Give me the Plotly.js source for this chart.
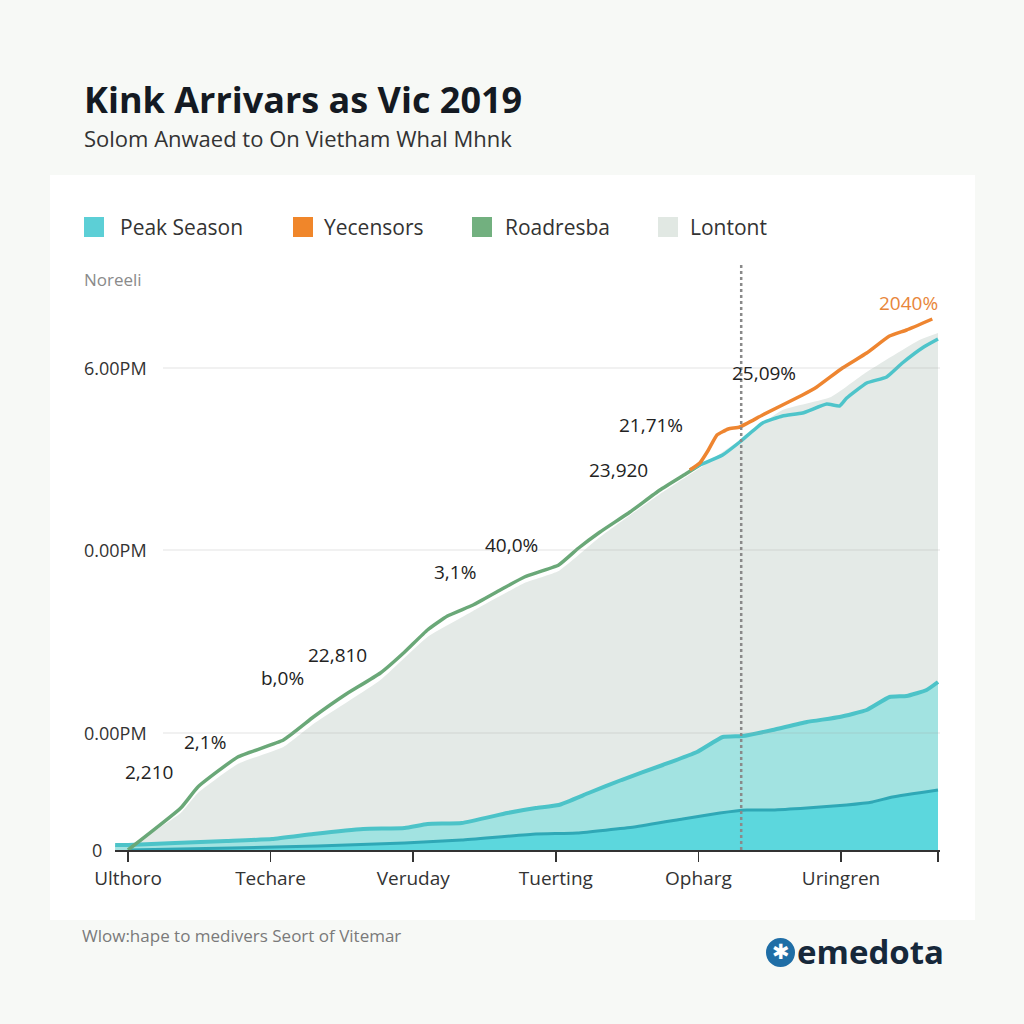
<!DOCTYPE html>
<html>
<head>
<meta charset="utf-8">
<script src="https://cdn.plot.ly/plotly-3.0.1.min.js"></script>
<style>html,body{margin:0;padding:0;background:#f7f9f6;}#chart{width:1024px;height:1024px;}</style>
</head>
<body>
<div id="chart"></div>
<script>
// ---- data ----
const xTickVals = [0, 10, 20, 30, 40, 50, 56.8];
const xTickText = ["Ulthoro", "Techare", "Veruday", "Tuerting", "Opharg", "Uringren", ""];
const yTickVals = [0, 117, 300, 482];
const yTickText = ["0", "0.00PM", "0.00PM", "6.00PM"];

const greenX = [0, 3.7, 4.9, 7.7, 10.9, 13.0, 15.2, 17.7, 19.4, 21.0, 22.4, 24.2, 26.1, 27.8, 30.2, 31.6, 33.1, 35.2, 37.3, 39.1, 40.1];
const greenY = [0, 42, 63, 93, 110, 133, 155, 177, 198, 220, 234, 245, 260, 273, 285, 302, 318, 338, 360, 376, 385];

const topTealX = [39.4, 40.1, 41.7, 42.9, 44.5, 45.9, 47.3, 49.0, 49.9, 50.4, 51.8, 53.2, 54.3, 55.8, 56.8];
const topTealY = [380, 385, 395, 408, 427, 434, 437, 446, 444, 452, 467, 473, 487, 503, 511];

const orangeX = [39.4, 40.1, 40.7, 41.3, 42.1, 42.9, 44.5, 47.3, 48.3, 50.1, 51.8, 53.4, 54.6, 56.4];
const orangeY = [380, 387, 400, 415, 421, 423, 435, 455, 463, 482, 497, 514, 520, 531];

const grayX = [-0.9, 0, 3.7, 4.9, 7.7, 10.9, 13.0, 17.7, 21.0, 24.2, 27.8, 30.2, 33.1, 37.3, 40.1, 42.9, 45.9, 49.3, 51.8, 55.5, 56.8];
const grayY = [4, 3, 37, 57, 86, 103, 126, 170, 213, 239, 267, 279, 313, 356, 382, 410, 440, 453, 478, 510, 517];

const midTealX = [-0.9, 0, 3.3, 6.9, 10.1, 13.0, 16.5, 19.4, 21.0, 23.4, 26.6, 28.6, 30.2, 32.3, 34.6, 37.5, 39.9, 41.7, 43.1, 45.2, 47.6, 49.9, 51.8, 53.4, 54.6, 56.0, 56.8];
const midTealY = [5, 5, 7, 9, 11, 16, 21, 22, 26, 27, 37, 42, 45, 57, 70, 85, 98, 113, 114, 120, 128, 133, 140, 153, 154, 160, 168];

const lowTealX = [0, 7.3, 13.3, 19.4, 23.4, 28.6, 31.5, 35.5, 38.9, 41.5, 43.4, 45.2, 47.6, 50.4, 52.2, 53.6, 56.8];
const lowTealY = [0, 2, 4, 7, 10, 16, 17, 23, 31, 37, 40, 40, 42, 45, 48, 53, 60];

const labelText = ["2,210", "2,1%", "b,0%", "22,810", "3,1%", "40,0%", "23,920", "21,71%", "25,09%", "2040%"];
const labelX = [1.5, 5.4, 10.8, 14.7, 22.9, 26.9, 34.4, 36.7, 44.6, 54.7];
const labelY = [78, 108, 172, 195, 278, 305, 380, 425, 477, 547];

const legendNames = ["Peak Season", "Yecensors", "Roadresba", "Lontont"];
const legendColors = ["#5ccfd6", "#f0862a", "#72b07f", "#e1e8e3"];
const dividerX = 43.0;

// ---- layout helpers (pixel -> paper) ----
const L = 115, T = 265, W = 825, H = 585;
const px = v => (v - L) / W;
const py = v => (T + H - v) / H;
const FONT = "Open Sans, Noto Sans, sans-serif";

const traces = [
  {x: grayX, y: grayY, type: "scatter", mode: "lines", line: {width: 0, shape: "spline", smoothing: 0.4}, fill: "tozeroy", fillcolor: "#e4eae7", hoverinfo: "skip"},
  {x: midTealX, y: midTealY, type: "scatter", mode: "lines", line: {color: "#4cc3c8", width: 4, shape: "spline", smoothing: 0.4}, fill: "tozeroy", fillcolor: "#a2e3e1"},
  {x: lowTealX, y: lowTealY, type: "scatter", mode: "lines", line: {color: "#2fa8b6", width: 3, shape: "spline", smoothing: 0.4}, fill: "tozeroy", fillcolor: "#5cd7dd"},
  {x: greenX, y: greenY, type: "scatter", mode: "lines", line: {color: "#6aa878", width: 3.5, shape: "spline", smoothing: 0.4}},
  {x: topTealX, y: topTealY, type: "scatter", mode: "lines", line: {color: "#4ec4ca", width: 3.5, shape: "spline", smoothing: 0.4}},
  {x: orangeX, y: orangeY, type: "scatter", mode: "lines", line: {color: "#ee8530", width: 3.5, shape: "spline", smoothing: 0.4}}
];

const shapes = [
  {type: "rect", xref: "paper", yref: "paper", x0: px(50), x1: px(975), y0: py(920), y1: py(175), fillcolor: "#ffffff", line: {width: 0}, layer: "below"}
];
yTickVals.slice(1).forEach(v => shapes.push({type: "line", xref: "paper", yref: "y", x0: px(163), x1: 1, y0: v, y1: v, line: {color: "rgba(160,160,160,0.3)", width: 1}, layer: "above"}));
shapes.push({type: "line", xref: "x", yref: "paper", x0: dividerX, x1: dividerX, y0: 0, y1: 1, line: {color: "#8a8a8a", width: 2.5, dash: "dot"}, layer: "above"});

const legendBoxX = [84, 293, 472, 658];
const legendTextX = [118, 322, 503, 688];
legendColors.forEach((c, i) => shapes.push({type: "rect", xref: "paper", yref: "paper", x0: px(legendBoxX[i]), x1: px(legendBoxX[i] + 20), y0: py(237), y1: py(217), fillcolor: c, line: {width: 0}}));
// logo circle
shapes.push({type: "circle", xref: "paper", yref: "paper", x0: px(766), x1: px(795), y0: py(967), y1: py(938), fillcolor: "#1f6ea6", line: {width: 0}});

const annotations = [
  {xref: "paper", yref: "paper", x: px(82), y: py(100), xanchor: "left", yanchor: "middle", text: "<b>Kink Arrivars as Vic 2019</b>", showarrow: false, font: {family: FONT, size: 36, color: "#141a22"}},
  {xref: "paper", yref: "paper", x: px(82), y: py(138), xanchor: "left", yanchor: "middle", text: "Solom Anwaed to On Vietham Whal Mhnk", showarrow: false, font: {family: FONT, size: 22, color: "#333"}},
  {xref: "paper", yref: "paper", x: px(82), y: py(279), xanchor: "left", yanchor: "middle", text: "Noreeli", showarrow: false, font: {family: FONT, size: 17, color: "#8a8a8a"}},
  {xref: "paper", yref: "paper", x: px(80), y: py(935), xanchor: "left", yanchor: "middle", text: "Wlow:hape to medivers Seort of Vitemar", showarrow: false, font: {family: FONT, size: 17, color: "#7a7a7a"}},
  {xref: "paper", yref: "paper", x: px(780.5), y: py(952), xanchor: "center", yanchor: "middle", text: "✱", showarrow: false, font: {family: "DejaVu Sans", size: 21, color: "#ffffff"}},
  {xref: "paper", yref: "paper", x: px(795), y: py(951), xanchor: "left", yanchor: "middle", text: "<b>emedota</b>", showarrow: false, font: {family: FONT, size: 33, color: "#16283a"}}
];
legendNames.forEach((n, i) => annotations.push({xref: "paper", yref: "paper", x: px(legendTextX[i]), y: py(227), xanchor: "left", yanchor: "middle", text: n, showarrow: false, font: {family: FONT, size: 21, color: "#333"}}));
yTickVals.forEach((v, i) => annotations.push({xref: "paper", yref: "y", x: px(i === 0 ? 90 : 82), y: v, xanchor: "left", yanchor: "middle", text: yTickText[i], showarrow: false, font: {family: FONT, size: 18, color: "#333"}}));
labelText.forEach((t, i) => annotations.push({xref: "x", yref: "y", x: labelX[i], y: labelY[i], xanchor: "center", yanchor: "middle", text: t, showarrow: false, font: {family: FONT, size: 19, color: i === labelText.length - 1 ? "#e8863a" : "#222"}}));

const layout = {
  width: 1024, height: 1024,
  margin: {l: L, r: 1024 - L - W, t: T, b: 1024 - T - H},
  paper_bgcolor: "#f7f9f6", plot_bgcolor: "rgba(0,0,0,0)",
  showlegend: false,
  xaxis: {range: [-0.91, 56.94], tickvals: xTickVals, ticktext: xTickText, showgrid: false, zeroline: false,
          showline: true, linecolor: "#333", linewidth: 2, ticks: "outside", ticklen: 10, tickwidth: 1.5, tickcolor: "#333",
          tickfont: {family: FONT, size: 19, color: "#333"}, fixedrange: true},
  yaxis: {range: [0, 585], showgrid: false, zeroline: false, showticklabels: false, fixedrange: true},
  shapes: shapes,
  annotations: annotations
};

Plotly.newPlot("chart", traces, layout, {staticPlot: true, displayModeBar: false});
</script>
</body>
</html>
